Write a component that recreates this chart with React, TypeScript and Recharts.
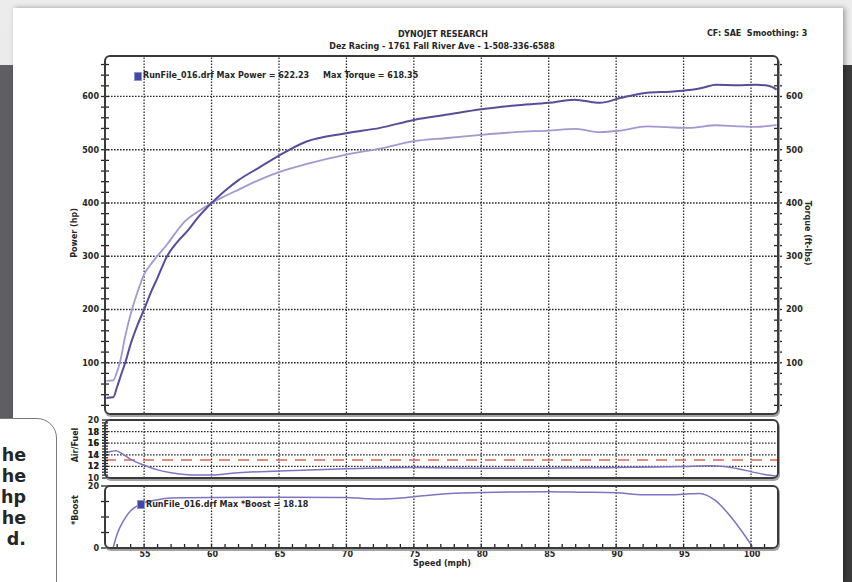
import React from "react";
import { LineChart, Line, XAxis, YAxis, ReferenceLine } from "recharts";

// ---------- data ----------
const SPEED_POWER = [52.2, 52.7, 53.0, 53.3, 53.6, 54.0, 54.5, 55.0, 55.5, 56.0, 56.7, 57.5, 58.3, 59.0, 60.0, 61.0, 62.0, 63.5, 65.0, 67.0, 70.0, 72.5, 75.0, 77.5, 80.0, 82.5, 85.0, 86.9, 88.8, 90.3, 92.3, 94.0, 95.4, 96.5, 97.4, 99.0, 100.4, 101.3, 101.9];
const POWER_HP = [34, 35, 55, 78, 100, 135, 170, 200, 232, 260, 300, 328, 350, 373, 400, 423, 443, 466, 489, 515, 531, 541, 556, 566, 576, 583, 588, 594, 588, 597, 607, 609, 612, 617, 622, 621, 622, 620, 613];

const SPEED_TORQUE = [52.2, 52.7, 52.95, 53.2, 53.6, 54.1, 54.5, 55.0, 55.5, 56.0, 56.7, 57.3, 58.0, 59.0, 60.0, 61.0, 62.0, 63.5, 65.0, 67.0, 70.0, 72.5, 75.0, 77.5, 80.0, 82.5, 85.0, 87.0, 88.8, 90.3, 92.3, 94.0, 95.4, 97.4, 99.0, 100.4, 101.9];
const TORQUE_FTLBS = [66, 67, 80, 100, 150, 200, 232, 266, 285, 301, 322, 343, 365, 384, 400, 413, 425, 443, 458, 473, 491, 502, 516, 522, 528, 533, 536, 539, 533, 536, 544, 542, 541, 546, 544, 543, 546];

const SPEED_AFR = [52.2, 52.6, 52.9, 53.3, 54.0, 55.0, 56.0, 57.0, 58.0, 59.0, 60.0, 61.0, 62.0, 65.0, 70.0, 75.0, 80.0, 85.0, 90.0, 93.0, 95.0, 97.0, 98.0, 99.0, 100.0, 101.0, 102.0];
const AIR_FUEL = [14.4, 14.6, 14.7, 14.3, 13.2, 12.2, 11.4, 10.9, 10.6, 10.5, 10.5, 10.7, 10.9, 11.2, 11.6, 11.8, 11.7, 11.7, 11.8, 11.9, 12.0, 12.1, 12.0, 11.6, 11.1, 10.6, 10.3];
const AFR_TARGET = 13.1;

const SPEED_BOOST = [52.7, 53.0, 53.5, 54.0, 54.5, 55.0, 56.0, 57.0, 58.0, 60.0, 65.0, 70.0, 71.5, 72.5, 74.0, 75.0, 76.5, 78.0, 80.0, 82.5, 85.0, 87.5, 90.0, 92.0, 94.0, 95.5, 96.2, 97.3, 98.5, 99.3, 100.1];
const BOOST_PSI = [0, 4.5, 9, 12, 13.6, 14.6, 15.6, 16.1, 16.2, 16.3, 16.4, 16.3, 15.9, 15.8, 16.1, 16.5, 17.2, 17.7, 17.9, 18.1, 18.18, 18.0, 17.8, 17.2, 17.2, 17.5, 17.6, 15.5, 10.1, 5.5, 0.5];

const SPEED_DOMAIN = [52.1, 102];
const SPEED_GRID = [55, 60, 65, 70, 75, 80, 85, 90, 95, 100];
const SPEED_MINOR = [53, 54, 55, 56, 57, 58, 59, 60, 61, 62, 63, 64, 65, 66, 67, 68, 69, 70, 71, 72, 73, 74, 75, 76, 77, 78, 79, 80, 81, 82, 83, 84, 85, 86, 87, 88, 89, 90, 91, 92, 93, 94, 95, 96, 97, 98, 99, 100, 101];

const POWER_DOMAIN = [0, 676];
const POWER_LABELS = [100, 200, 300, 400, 500, 600];
const POWER_MINOR = [20, 40, 60, 80, 100, 120, 140, 160, 180, 200, 220, 240, 260, 280, 300, 320, 340, 360, 380, 400, 420, 440, 460, 480, 500, 520, 540, 560, 580, 600, 620, 640, 660];

const AFR_DOMAIN = [10, 20];
const AFR_LABELS = [10, 12, 14, 16, 18, 20];
const AFR_GRID = [12, 14, 16, 18];
const AFR_MINOR = [10.5, 11, 11.5, 12, 12.5, 13, 13.5, 14, 14.5, 15, 15.5, 16, 16.5, 17, 17.5, 18, 18.5, 19, 19.5];

const BOOST_DOMAIN = [0, 20];
const BOOST_LABELS = [0, 20];
const BOOST_MINOR = [5, 10, 15];

const TITLE = "DYNOJET RESEARCH";
const SUBTITLE = "Dez Racing - 1761 Fall River Ave - 1-508-336-6588";
const CORNER_NOTE = "CF: SAE  Smoothing: 3";
const MAIN_LEGEND = "RunFile_016.drf Max Power = 622.23     Max Torque = 618.35";
const BOOST_LEGEND = "RunFile_016.drf Max *Boost = 18.18";
const CAPTION_LINES = ["he", "he", "hp", "he", "d."];

const toPts = (xs: number[], ys: number[]) => xs.map((x, i) => ({ x, y: ys[i] }));
const POWER_DATA = toPts(SPEED_POWER, POWER_HP);
const TORQUE_DATA = toPts(SPEED_TORQUE, TORQUE_FTLBS);
const AFR_DATA = toPts(SPEED_AFR, AIR_FUEL);
const BOOST_DATA = toPts(SPEED_BOOST, BOOST_PSI);

// ---------- styling ----------
const F = "'DejaVu Sans', Verdana, sans-serif";
const INK = "#262626";
const GRID = "#2e2e2e";
const DOT = "1.6 1.4";
const C_POWER = "#5a4c9a";
const C_TORQUE = "#a597d2";
const C_AUX = "#7e73c2";

const yTick = (labels: number[], side: "left" | "right", half: number) => (p: any) => {
  const { x, y, payload } = p;
  const v = payload.value;
  const show = labels.includes(v);
  return (
    <g>
      <line x1={x - half} x2={x + half} y1={y} y2={y} stroke={INK} strokeWidth={1.3} />
      {show && (
        <text
          x={side === "left" ? x - 6 : x + 8}
          y={y + 3}
          textAnchor={side === "left" ? "end" : "start"}
          fontFamily={F}
          fontWeight="bold"
          fontSize={8}
          fill={INK}
        >
          {v}
        </text>
      )}
    </g>
  );
};

const xTick = (p: any) => {
  const { x, y, payload } = p;
  const v = payload.value;
  const show = SPEED_GRID.includes(v);
  return (
    <g>
      <line x1={x} x2={x} y1={y - 4} y2={y + 1} stroke={INK} strokeWidth={1.3} />
      {show && (
        <text x={x + 1} y={y + 9} textAnchor="middle" fontFamily={F} fontWeight="bold" fontSize={8} fill={INK}>
          {v}
        </text>
      )}
    </g>
  );
};

const abs = (l: number, t: number, extra: React.CSSProperties = {}): React.CSSProperties => ({
  position: "absolute",
  left: l,
  top: t,
  ...extra,
});

const txt: React.CSSProperties = {
  fontFamily: F,
  fontWeight: "bold",
  fontSize: 8,
  color: INK,
  whiteSpace: "pre",
  lineHeight: "10px",
};

const Centered = ({ cx, cy, rot = 0, children }: any) => (
  <div
    style={{
      ...abs(cx, cy),
      ...txt,
      transform: `translate(-50%, -50%) rotate(${rot}deg)`,
    }}
  >
    {children}
  </div>
);

const Frame = ({ l, t, w, h }: any) => (
  <div
    style={{
      ...abs(l, t),
      width: w,
      height: h,
      boxSizing: "border-box",
      border: "2px solid #3a3a3a",
      borderRadius: 6,
      boxShadow: "1px 2px 0 #a3a3a3",
      pointerEvents: "none",
    }}
  />
);

const LegendSq = ({ l, t }: any) => (
  <div style={{ ...abs(l, t), width: 6, height: 7, background: "#3f4aa6", border: "1px solid #8c93d0" }} />
);

export default function App() {
  return (
    <div style={{ ...abs(0, 0), width: 852, height: 582, overflow: "hidden", background: "linear-gradient(#ececec, #dcdcdc)" }}>
      {/* dark side panels */}
      <div style={{ ...abs(0, 65), width: 14, height: 353, background: "#5e5e63" }} />
      <div style={{ ...abs(838, 65), width: 14, height: 517, background: "#3b3b3b" }} />
      {/* page */}
      <div style={{ ...abs(13, 8), width: 830, height: 574, background: "#ffffff", boxShadow: "2px 0 5px rgba(0,0,0,0.35)" }} />
      {/* caption box */}
      <div
        style={{
          ...abs(-20, 418),
          width: 77,
          height: 200,
          boxSizing: "border-box",
          border: "1px solid #7a7a7a",
          borderRadius: "0 20px 0 0",
          background: "#ffffff",
        }}
      />
      {CAPTION_LINES.map((s, i) => (
        <div
          key={i}
          style={{
            ...abs(-60, 445 + i * 21),
            width: 86,
            textAlign: "right",
            fontFamily: F,
            fontWeight: 700,
            fontSize: 17.5,
            lineHeight: "20px",
            color: "#262626",
          }}
        >
          {s}
        </div>
      ))}

      {/* titles */}
      <Centered cx={443} cy={35}>{TITLE}</Centered>
      <Centered cx={442} cy={47}>{SUBTITLE}</Centered>
      <div style={{ ...abs(707, 29), ...txt }}>{CORNER_NOTE}</div>

      {/* main power / torque chart */}
      <div style={abs(0, 0)}>
        <LineChart width={852} height={430} margin={{ top: 56, right: 34, bottom: 14, left: 45 }}>
          <XAxis dataKey="x" type="number" domain={SPEED_DOMAIN} allowDataOverflow hide />
          <YAxis
            yAxisId="l"
            type="number"
            domain={POWER_DOMAIN}
            allowDataOverflow
            ticks={POWER_MINOR}
            interval={0}
            width={60}
            axisLine={false}
            tickLine={false}
            tickSize={0}
            tickMargin={0}
            tick={yTick(POWER_LABELS, "left", 4)}
          />
          <YAxis
            yAxisId="r"
            orientation="right"
            type="number"
            domain={POWER_DOMAIN}
            allowDataOverflow
            ticks={POWER_MINOR}
            interval={0}
            width={40}
            axisLine={false}
            tickLine={false}
            tickSize={0}
            tickMargin={0}
            tick={yTick(POWER_LABELS, "right", 4)}
          />
          {SPEED_GRID.map((v) => (
            <ReferenceLine key={"gx" + v} yAxisId="l" x={v} stroke={GRID} strokeWidth={1.3} strokeDasharray={DOT} />
          ))}
          {POWER_LABELS.map((v) => (
            <ReferenceLine key={"gy" + v} yAxisId="l" y={v} stroke={GRID} strokeWidth={1.3} strokeDasharray={DOT} />
          ))}
          <Line yAxisId="r" data={TORQUE_DATA} dataKey="y" type="monotone" stroke={C_TORQUE} strokeWidth={1.8} dot={false} isAnimationActive={false} />
          <Line yAxisId="l" data={POWER_DATA} dataKey="y" type="monotone" stroke={C_POWER} strokeWidth={2} dot={false} isAnimationActive={false} />
        </LineChart>
      </div>

      {/* air / fuel chart */}
      <div style={abs(0, 400)}>
        <LineChart width={852} height={90} margin={{ top: 20, right: 74, bottom: 12, left: 45 }}>
          <XAxis dataKey="x" type="number" domain={SPEED_DOMAIN} allowDataOverflow hide />
          <YAxis
            type="number"
            domain={AFR_DOMAIN}
            allowDataOverflow
            ticks={[...AFR_LABELS, ...AFR_MINOR]}
            interval={0}
            width={60}
            axisLine={false}
            tickLine={false}
            tickSize={0}
            tickMargin={0}
            tick={yTick(AFR_LABELS, "left", 3)}
          />
          {SPEED_GRID.map((v) => (
            <ReferenceLine key={"ax" + v} x={v} stroke={GRID} strokeWidth={1.3} strokeDasharray={DOT} />
          ))}
          {AFR_GRID.map((v) => (
            <ReferenceLine key={"ay" + v} y={v} stroke={GRID} strokeWidth={1.3} strokeDasharray={DOT} />
          ))}
          <ReferenceLine y={AFR_TARGET} stroke="#de6650" strokeWidth={1.6} strokeDasharray="11 8" />
          <Line data={AFR_DATA} dataKey="y" type="monotone" stroke={C_AUX} strokeWidth={1.5} dot={false} isAnimationActive={false} />
        </LineChart>
      </div>

      {/* boost chart */}
      <div style={abs(0, 476)}>
        <LineChart width={852} height={106} margin={{ top: 10, right: 74, bottom: 4, left: 45 }}>
          <XAxis
            dataKey="x"
            type="number"
            domain={SPEED_DOMAIN}
            allowDataOverflow
            ticks={SPEED_MINOR}
            interval={0}
            height={30}
            axisLine={false}
            tickLine={false}
            tickSize={0}
            tickMargin={0}
            tick={xTick}
          />
          <YAxis
            type="number"
            domain={BOOST_DOMAIN}
            allowDataOverflow
            ticks={[...BOOST_LABELS, ...BOOST_MINOR]}
            interval={0}
            width={60}
            axisLine={false}
            tickLine={false}
            tickSize={0}
            tickMargin={0}
            tick={yTick(BOOST_LABELS, "left", 4)}
          />
          {SPEED_GRID.map((v) => (
            <ReferenceLine key={"bx" + v} x={v} stroke={GRID} strokeWidth={1.3} strokeDasharray={DOT} />
          ))}
          <Line data={BOOST_DATA} dataKey="y" type="monotone" stroke={C_AUX} strokeWidth={1.5} dot={false} isAnimationActive={false} />
        </LineChart>
      </div>

      {/* frames */}
      <Frame l={104} t={55} w={675} h={360} />
      <Frame l={104} t={419} w={675} h={60} />
      <Frame l={104} t={485} w={675} h={64} />

      {/* legends */}
      <LegendSq l={134} t={72} />
      <div style={{ ...abs(143, 71), ...txt }}>{MAIN_LEGEND}</div>
      <LegendSq l={137} t={500} />
      <div style={{ ...abs(146, 500), ...txt }}>{BOOST_LEGEND}</div>

      {/* axis titles */}
      <Centered cx={75} cy={233} rot={-90}>Power (hp)</Centered>
      <Centered cx={807} cy={233} rot={90}>Torque (ft-lbs)</Centered>
      <Centered cx={76} cy={445} rot={-90}>Air/Fuel</Centered>
      <Centered cx={76} cy={510} rot={-90}>*Boost</Centered>
      <Centered cx={442} cy={564}>Speed (mph)</Centered>
    </div>
  );
}
